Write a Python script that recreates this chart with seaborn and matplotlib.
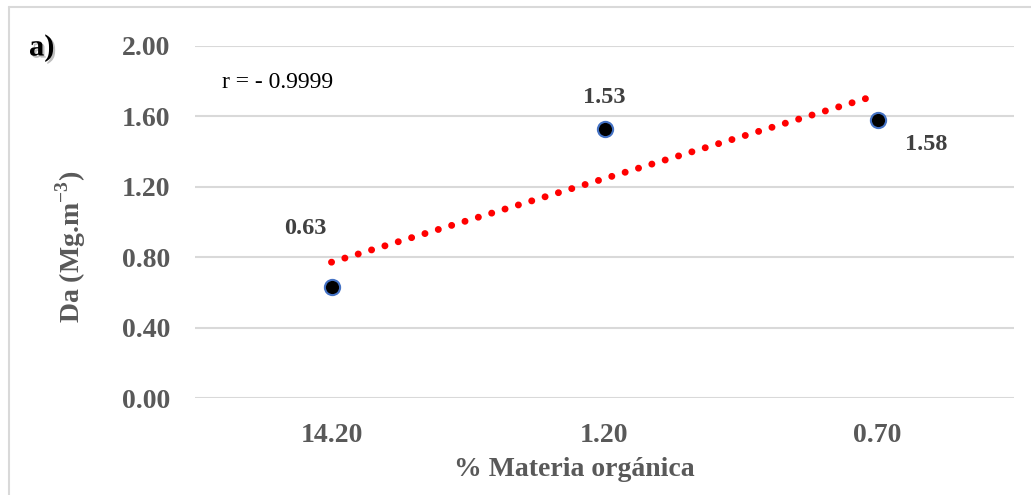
import numpy as np
import pandas as pd
import matplotlib
matplotlib.use("Agg")
import matplotlib.pyplot as plt
import matplotlib.patheffects as pe
from matplotlib.lines import Line2D
import seaborn as sns

# Data: bulk density vs. organic matter content
materia_organica = ["14.20", "1.20", "0.70"]
densidad_aparente = [0.63, 1.53, 1.58]
etiquetas = ["0.63", "1.53", "1.58"]
r_texto = "r = - 0.9999"
y_ticks = [0.0, 0.4, 0.8, 1.2, 1.6, 2.0]

sns.set_theme(style="white")
plt.rcParams["font.family"] = ["Liberation Serif", "DejaVu Serif"]
plt.rcParams["mathtext.fontset"] = "custom"
plt.rcParams["mathtext.rm"] = "Liberation Serif"
plt.rcParams["mathtext.bf"] = "Liberation Serif:bold"

gris_txt = "#595959"
gris_lbl = "#404040"
gris_grid = "#d9d9d9"

df = pd.DataFrame({
    "mo": materia_organica,
    "pos": np.arange(len(materia_organica)),
    "da": densidad_aparente,
})

W, H = 1031, 495
fig = plt.figure(figsize=(W / 100, H / 100), dpi=100)
ax = fig.add_axes([195 / W, 1 - 398 / H, (1014 - 195) / W, (398 - 46) / H])

# Linear trend across the category positions (round dotted line)
sns.regplot(data=df, x="pos", y="da", scatter=False, ci=None, truncate=True,
            ax=ax, line_kws=dict(color="#ff0000", lw=5.0,
                                 linestyle=(0, (0.01, 2.0)),
                                 dash_capstyle="round", zorder=3))

# Measured points
sns.scatterplot(data=df, x="pos", y="da", ax=ax, s=120, color="black",
                edgecolor="#4472c4", linewidth=1.5, zorder=5, legend=False)

# Value labels
offsets = [(-26, 59), (0, 31), (49, -25)]
for xi, yi, lab, off in zip(df["pos"], df["da"], etiquetas, offsets):
    ax.annotate(lab, (xi, yi), xytext=off, textcoords="offset pixels",
                ha="center", va="center", fontsize=17.5, fontweight="bold",
                color=gris_lbl)

ax.set_xlim(-0.5, len(materia_organica) - 0.5)
ax.set_ylim(0, 2.0)
ax.set_yticks(y_ticks)
ax.set_yticklabels([f"{v:.2f}" for v in y_ticks])
ax.set_xticks(df["pos"])
ax.set_xticklabels(materia_organica)
ax.tick_params(axis="both", length=0, labelsize=20, labelcolor=gris_txt)
ax.tick_params(axis="y", pad=18)
ax.tick_params(axis="x", pad=18)
for t in ax.get_xticklabels() + ax.get_yticklabels():
    t.set_fontweight("bold")

ax.grid(axis="y", color=gris_grid, lw=1.5)
ax.set_axisbelow(True)
for s in ax.spines.values():
    s.set_visible(False)

ax.set_xlabel("% Materia orgánica", fontsize=20, fontweight="bold", color=gris_txt)
ax.set_ylabel(r"Da (Mg.m$^{\mathbf{-3}}$)", fontsize=20, fontweight="bold",
              color=gris_txt)
ax.xaxis.set_label_coords((574 - 195) / 819, (398 - 457) / 352)
ax.yaxis.set_label_coords((88 - 195) / 819, (398 - 247) / 352)

# Correlation coefficient and panel letter
fig.text(222 / W, 1 - 83 / H, r_texto, fontsize=17, color="black",
         ha="left", va="center")
fig.text(29 / W, 1 - 48 / H, "a)", fontsize=22, fontweight="bold",
         color="black", ha="left", va="center",
         path_effects=[pe.SimplePatchShadow(offset=(1.5, -1.5),
                                            shadow_rgbFace="#808080", alpha=0.5),
                       pe.Normal()])

# Frame around the chart area
fig.add_artist(Line2D([9 / W, 9 / W], [0, 1 - 7 / H], transform=fig.transFigure,
                      color=gris_grid, lw=1.5))
fig.add_artist(Line2D([9 / W, 1], [1 - 7 / H, 1 - 7 / H], transform=fig.transFigure,
                      color=gris_grid, lw=1.5))

fig.savefig("out.png", dpi=100)
